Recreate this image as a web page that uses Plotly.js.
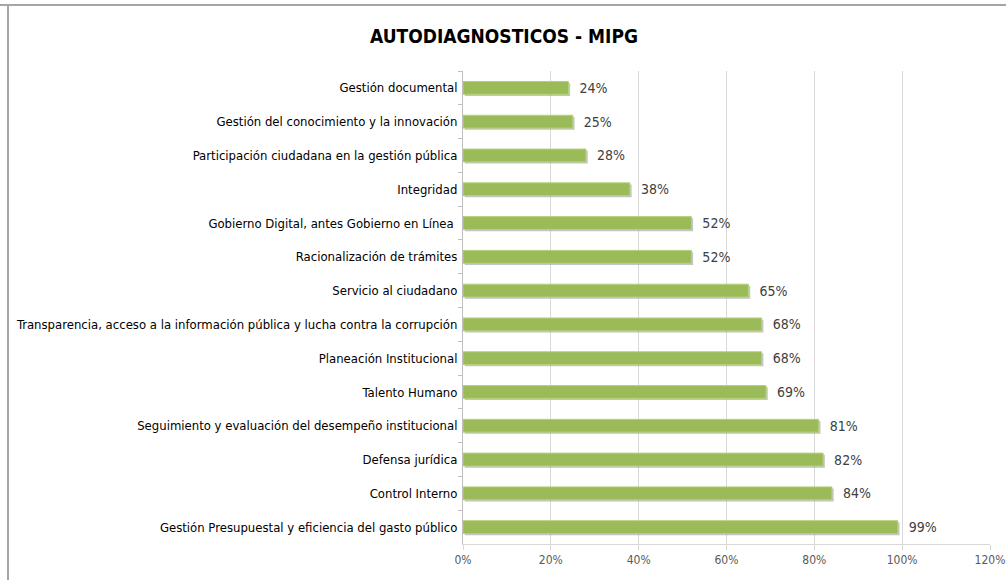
<!DOCTYPE html>
<html>
<head>
<meta charset="utf-8">
<script src="https://cdn.plot.ly/plotly-3.0.1.min.js"></script>
<style>
html,body{margin:0;padding:0;background:#fff;}
#chart{width:1006px;height:580px;}
</style>
</head>
<body>
<div id="chart"></div>
<script>
const categories = [
  "Gestión documental",
  "Gestión del conocimiento y la innovación",
  "Participación ciudadana en la gestión pública",
  "Integridad",
  "Gobierno Digital, antes Gobierno en Línea ",
  "Racionalización de trámites",
  "Servicio al ciudadano",
  "Transparencia, acceso a la información pública y lucha contra la corrupción",
  "Planeación Institucional",
  "Talento Humano",
  "Seguimiento y evaluación del desempeño institucional",
  "Defensa jurídica",
  "Control Interno",
  "Gestión Presupuestal y eficiencia del gasto público"
];
const values = [0.24, 0.25, 0.28, 0.38, 0.52, 0.52, 0.65, 0.68, 0.68, 0.69, 0.81, 0.82, 0.84, 0.99];
const valueLabels = ["24%","25%","28%","38%","52%","52%","65%","68%","68%","69%","81%","82%","84%","99%"];
const xTicks = [0, 0.2, 0.4, 0.6, 0.8, 1.0, 1.2];
const xTickLabels = ["0%","20%","40%","60%","80%","100%","120%"];

const FONT = '"DejaVu Sans Condensed", "Liberation Sans Narrow", Arial, sans-serif';

const shadow = {
  type: 'bar', orientation: 'h',
  y: categories, x: values,
  base: 0.004,
  width: 0.38, offset: -0.14,
  marker: {color: 'rgba(150,150,150,0.55)'},
  hoverinfo: 'skip', showlegend: false
};
const bars = {
  type: 'bar', orientation: 'h',
  y: categories, x: values,
  width: 0.38, offset: -0.19,
  marker: {color: '#9bbb59', line: {color: '#b5d17a', width: 1}},
  text: valueLabels.map(t => '  ' + t),
  textposition: 'outside',
  constraintext: 'none',
  cliponaxis: false,
  textfont: {family: FONT, size: 14, color: '#404040'},
  hoverinfo: 'skip', showlegend: false
};

const layout = {
  width: 1006, height: 580,
  margin: {l: 463, r: 16, t: 71, b: 36},
  paper_bgcolor: '#ffffff', plot_bgcolor: '#ffffff',
  barmode: 'overlay',
  title: {
    text: '<b>AUTODIAGNOSTICOS - MIPG</b>',
    font: {family: FONT, size: 19, color: '#000000'},
    x: 504/1006, xref: 'container', xanchor: 'center',
    y: 1 - 36/580, yref: 'container', yanchor: 'middle'
  },
  xaxis: {
    range: [0, 1.2],
    tickvals: xTicks, ticktext: xTickLabels,
    tickfont: {family: FONT, size: 12, color: '#595959'},
    ticklabeloverflow: 'allow',
    showgrid: true, gridcolor: '#d9d9d9', gridwidth: 1,
    zeroline: false,
    showline: true, linecolor: '#d9d9d9', linewidth: 1,
    ticks: 'outside', ticklen: 5, tickcolor: '#d9d9d9'
  },
  yaxis: {
    type: 'category',
    autorange: 'reversed',
    tickfont: {family: FONT, size: 13, color: '#000000'},
    showgrid: false, zeroline: false,
    showline: true, linecolor: '#bfbfbf', linewidth: 1,
    ticks: 'outside', tickson: 'boundaries', ticklen: 4, tickcolor: '#bfbfbf',
    ticklabelstandoff: 2
  },
  shapes: [
    {type: 'line', xref: 'paper', yref: 'paper', x0: -463/527, x1: 1 + 16/527, y0: 1 + 66/473, y1: 1 + 66/473,
     line: {color: '#a6a6a6', width: 2}},
    {type: 'line', xref: 'paper', yref: 'paper', x0: -455/527, x1: -455/527, y0: 1 + 66/473, y1: -36/473,
     line: {color: '#a6a6a6', width: 2}}
  ]
};

Plotly.newPlot('chart', [shadow, bars], layout, {displayModeBar: false, staticPlot: true});
</script>
</body>
</html>
